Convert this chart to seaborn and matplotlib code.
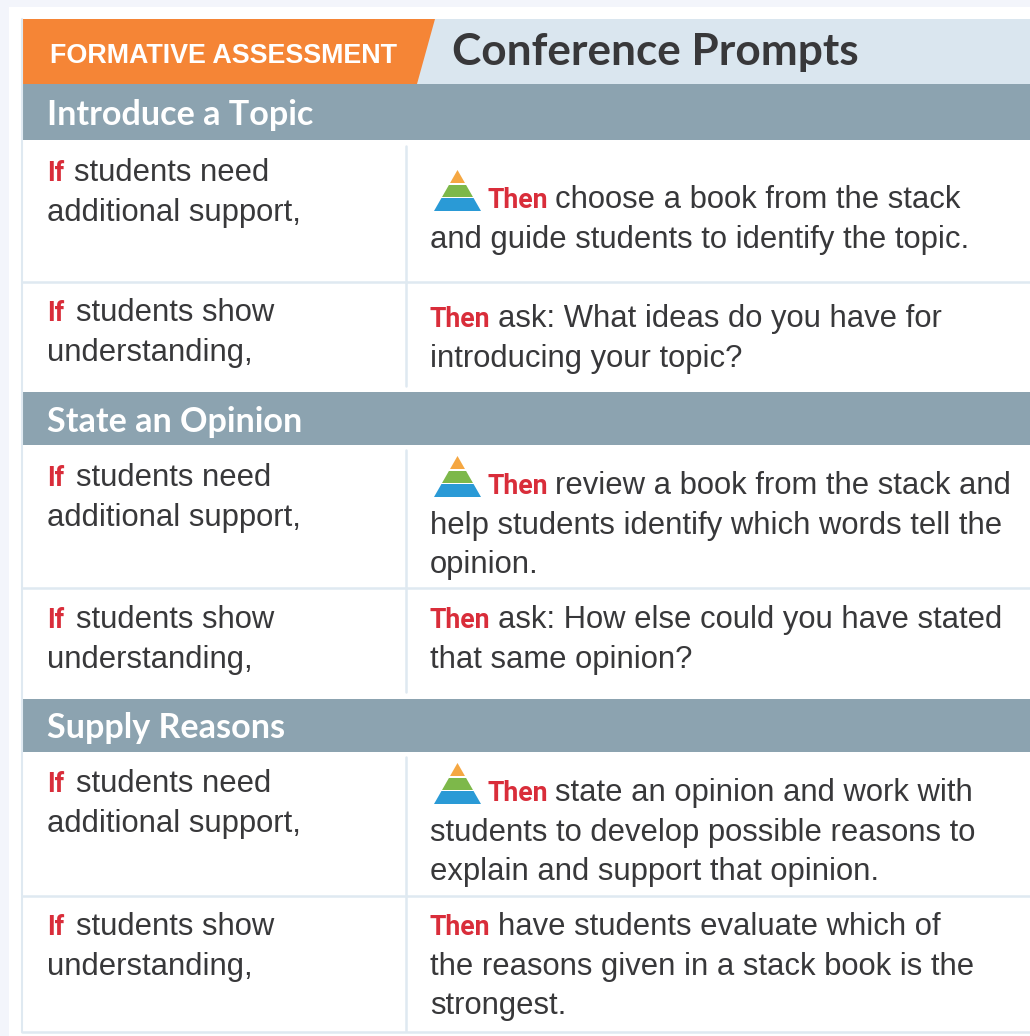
import seaborn as sns
import matplotlib
matplotlib.use("Agg")
import matplotlib.pyplot as plt
from matplotlib.patches import Polygon, Rectangle

sns.set_theme(style="white")

# textos
badge = "FORMATIVE ASSESSMENT"
title = "Conference Prompts"
sections = ["Introduce a Topic", "State an Opinion", "Supply Reasons"]
if_need = ["students need", "additional support,"]
if_show = ["students show", "understanding,"]
then_texts = [
    ["choose a book from the stack", "and guide students to identify the topic."],
    ["ask: What ideas do you have for", "introducing your topic?"],
    ["review a book from the stack and", "help students identify which words tell the", "opinion."],
    ["ask: How else could you have stated", "that same opinion?"],
    ["state an opinion and work with", "students to develop possible reasons to", "explain and support that opinion."],
    ["have students evaluate which of", "the reasons given in a stack book is the", "strongest."],
]
has_pyramid = [True, False, True, False, True, False]

# colores
ORANGE = "#F58536"
PALE = "#DAE6EF"
BAND = "#8CA3B0"
LINE = "#DFE9F1"
RED = "#D92D3A"
INK = "#38383A"

# maquetacion en pixeles
band_tops = [84, 392, 699]
band_bottoms = [140, 445, 752]
row_lines = [282, 588, 896, 1032]
vline_spans = [(146, 386), (450, 692), (757, 1031)]
if_y = [181, 321, 486, 628, 792, 935]
then_y = [208, 327, 494, 628, 801, 935]
if_rest_x = [74, 76.5, 76, 76.5, 76, 76.5]
LINE_H = 39.7
BODY = 22.3

fig = plt.figure(figsize=(10.3, 10.36), dpi=100)
ax = fig.add_axes([0, 0, 1, 1])
ax.set_xlim(0, 1030)
ax.set_ylim(1036, 0)
ax.axis("off")
sns.despine(ax=ax, left=True, bottom=True)

# fondo de pagina
ax.add_patch(Rectangle((0, 0), 1030, 1036, color="#F3F5FB", lw=0))
ax.add_patch(Rectangle((9, 7), 1021, 1029, color="white", lw=0))

# cabecera
ax.add_patch(Rectangle((23, 19), 1007, 65, color=PALE, lw=0))
ax.add_patch(Polygon([(23, 19), (435, 19), (417, 84), (23, 84)], color=ORANGE, lw=0))
ax.text(50, 63, badge, color="white", fontsize=19.35, fontweight="bold",
        family="Liberation Sans", va="baseline")
ax.text(452, 65, title, color=INK, fontsize=31.8, fontweight="bold",
        family="Lato", va="baseline")

# bordes
ax.plot([22, 22], [19, 1032], color=LINE, lw=1.5)
for y in row_lines:
    ax.plot([22, 1030], [y, y], color=LINE, lw=1.8)
for y0, y1 in vline_spans:
    ax.plot([406, 406], [y0, y1], color=LINE, lw=1.8)

# bandas de seccion
for name, y0, y1 in zip(sections, band_tops, band_bottoms):
    ax.add_patch(Rectangle((23, y0), 1007, y1 - y0, color=BAND, lw=0))
    ax.text(47, (y0 + y1) / 2 + 13, name, color="white", fontsize=24.6,
            fontweight="bold", family="Lato", va="baseline")


def pyramid(x, base):
    # triangulo de tres niveles, x = borde izquierdo, base = y inferior
    apex_x, h, w = x + 23.5, 41, 47
    tiers = [(0, 13, "#2A9AD6"), (14, 26, "#7DB84A"), (28, 41, "#F5A742")]
    for lo, hi, col in tiers:
        half_lo = w / 2 * (1 - lo / h)
        half_hi = w / 2 * (1 - hi / h)
        ax.add_patch(Polygon([(apex_x - half_lo, base - lo), (apex_x + half_lo, base - lo),
                              (apex_x + half_hi, base - hi), (apex_x - half_hi, base - hi)],
                             color=col, lw=0))


def lead_line(x, y, word, rest, rest_x):
    # palabra roja en negrita seguida del texto normal
    ax.text(x, y, word, color=RED, fontsize=19.2, fontweight="bold",
            family="Roboto", va="baseline")
    ax.text(rest_x, y, rest, color=INK, fontsize=BODY,
            family="Liberation Sans", va="baseline")


for i, lines in enumerate(then_texts):
    # columna If
    left = if_need if i % 2 == 0 else if_show
    lead_line(47, if_y[i], "If", left[0], if_rest_x[i])
    ax.text(47, if_y[i] + LINE_H, left[1], color=INK, fontsize=BODY,
            family="Liberation Sans", va="baseline")

    # columna Then
    x0 = 430
    if has_pyramid[i]:
        pyramid(434, then_y[i] + 3)
        x0 = 487
    lead_line(x0, then_y[i], "Then", lines[0], x0 + 68)
    for j, line in enumerate(lines[1:], start=1):
        ax.text(430, then_y[i] + j * LINE_H, line, color=INK, fontsize=BODY,
                family="Liberation Sans", va="baseline")

fig.savefig("out.png", dpi=100)
